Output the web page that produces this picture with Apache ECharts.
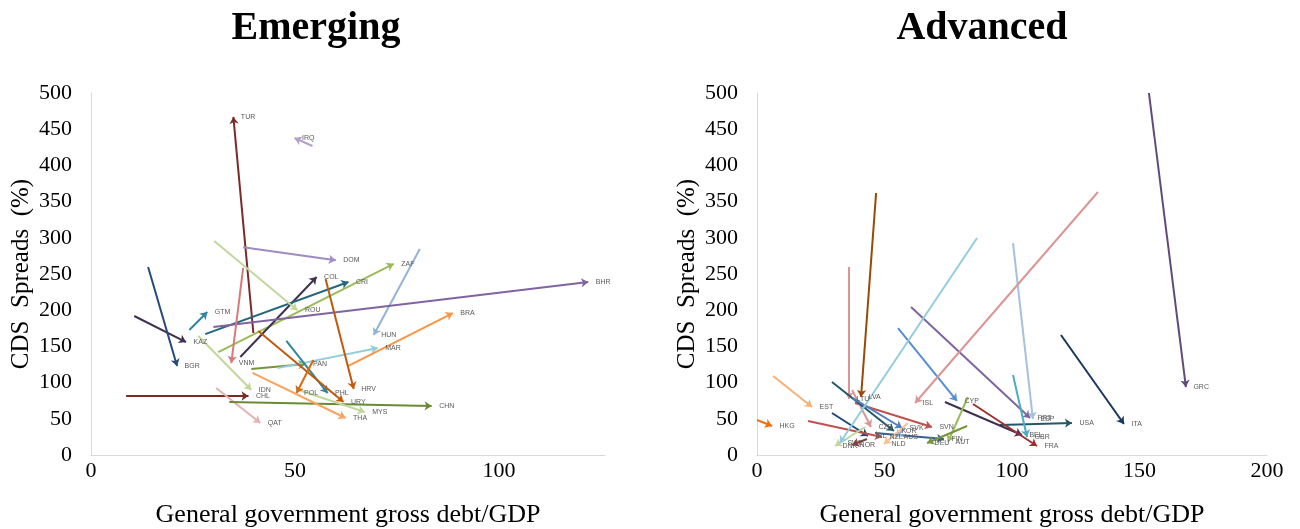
<!DOCTYPE html>
<html><head><meta charset="utf-8">
<script src="https://cdn.jsdelivr.net/npm/echarts@6/dist/echarts.min.js"></script>
<style>html,body{margin:0;padding:0;background:#fff}#c{width:1300px;height:529px}</style>
</head><body><div id="c"></div>
<script>
// ---- Emerging economies: debt/GDP and CDS spreads, start -> end ----
const emCodes     = ['TUR','IRQ','DOM','ZAF','HUN','COL','CRI','BHR','GTM','KAZ','BGR','VNM','ROU','IDN','CHL','QAT','CHN','PAN','MAR','BRA','HRV','PHL','URY','MYS','POL','THA'];
const emDebtStart = [39.8, 54.3, 37.3, 31.2, 80.6, 36.6, 28.0, 30.0, 24.1, 10.6, 14.0, 37.3, 30.2, 26.3,  8.6, 30.7, 33.9, 39.3, 45.7, 63.1, 57.5, 47.9, 41.0, 50.9, 54.5, 39.6];
const emCdsStart  = [168.5,426.8,287, 142, 284.5,135.4,167, 176.8,172.7,192, 259.7,258.3,295.6,164.4,81.5, 92.5, 73.2,118.8,120, 123, 243, 157.5,171.3,89.8,131.2,113.3];
const emDebtEnd   = [34.9, 49.9, 60.0, 74.2, 69.3, 55.3, 63.1,121.9, 28.5, 23.3, 21.1, 34.4, 50.6, 39.3, 38.6, 41.5, 83.5, 52.6, 70.3, 88.7, 64.4, 58.0, 61.9, 67.1, 50.4, 62.4];
const emCdsEnd    = [467, 437.8,269, 264, 165.7,245.9,239, 239, 197.5,156, 123, 127, 200, 89.8, 81.5, 44.2, 67.7,125.7,147.8,196, 91.2, 85.6, 73.2, 59.4, 85.6, 51.1];

// ---- Advanced economies ----
const advCodes     = ['GRC','ITA','USA','PRT','ESP','GBR','BEL','FRA','CYP','ISL','SVN','FIN','AUT','DEU','LVA','LTU','EST','HKG','CZE','KOR','SVK','IRL','NZL','AUS','NLD','NOR','DNK','SWE'];
const advDebtStart = [153.7,119.2, 95.3, 60.4,100.4,100.4, 73.7, 84.7, 55.3,133.7, 38.4, 46.3, 82.7, 82.4, 46.7, 36.1,  6.3,  0.0, 37.3, 29.4, 37.6, 29.4, 20.0, 58.0, 59.2, 43.1, 42.4, 86.3];
const advCdsStart  = [500, 165.7, 41.4,204.4,292.8,110.5, 73.2, 70.4,175.4,363.3, 71.8, 30.4, 80.1, 40.0,361.9,259.7,109.1, 48.3, 89.8,100.8, 78.7, 58.0, 47.0, 37.3, 44.2, 22.1, 38.7,299.7];
const advDebtEnd   = [168.2,143.9,123.5,107.1,108.2,105.9,103.9,109.8, 78.4, 62.0, 68.6, 73.3, 74.9, 66.7, 40.8, 36.1, 21.6,  5.9, 44.7, 53.7, 56.9, 43.5, 49.0, 54.5, 49.8, 37.3, 30.6, 32.5];
const advCdsEnd    = [93.9, 42.8, 44.2, 51.1, 49.7, 24.9, 27.6, 12.4, 74.6, 71.8, 38.7, 22.1, 18.0, 16.6, 80.1, 77.3, 66.3, 40.0, 38.7, 33.1, 37.3, 26.2, 24.9, 24.9, 15.2, 13.8, 12.4, 16.6];

const yTicks = [0,50,100,150,200,250,300,350,400,450,500];
const emXTicks = [0,50,100];
const advXTicks = [0,50,100,150,200];

// ---- styles (colour per country) ----
const colors = {
  TUR:'#7B2A2A', IRQ:'#B3A2C7', DOM:'#9F8AC4', ZAF:'#9BBB59', HUN:'#95B3D7', COL:'#403151', CRI:'#22677A',
  BHR:'#8064A2', GTM:'#31859C', KAZ:'#3F3151', BGR:'#254B7A', VNM:'#D9797A', ROU:'#C3D69B', IDN:'#C3D69B',
  CHL:'#7B2A2A', QAT:'#E6B0AF', CHN:'#6A8A35', PAN:'#77933C', MAR:'#93CDDD', BRA:'#F79646', HRV:'#C0590B',
  PHL:'#31859C', URY:'#C0590B', MYS:'#C3D69B', POL:'#D46A12', THA:'#FAA35A',
  GRC:'#604A7B', ITA:'#17375E', USA:'#215968', PRT:'#8064A2', ESP:'#A6C0E0', GBR:'#4BACC6', BEL:'#3F3151',
  FRA:'#A0302E', CYP:'#558ED5', ISL:'#DA9694', SVN:'#C0504D', FIN:'#376092', AUT:'#9BBB59', DEU:'#77933C',
  LVA:'#984807', LTU:'#DA9694', EST:'#F9B074', HKG:'#F36F10', CZE:'#DA9694', KOR:'#215968', SVK:'#4F81BD',
  IRL:'#1F497D', NZL:'#C0504D', AUS:'#8DB4E2', NLD:'#FAC090', NOR:'#953735', DNK:'#C3D69B', SWE:'#93CDDD'
};

const serif = 'Liberation Serif';
const sans = 'Liberation Sans';

function arrows(codes, x0, y0, x1, y1, gi) {
  const lineData = codes.map((c, i) => ({
    coords: [[x0[i], y0[i]], [x1[i], y1[i]]],
    lineStyle: { color: colors[c] }, itemStyle: { color: colors[c] }
  }));
  const labelData = codes.map((c, i) => ({ name: c, value: [x1[i], y1[i]] }));
  return [
    { type: 'lines', coordinateSystem: 'cartesian2d', xAxisIndex: gi, yAxisIndex: gi,
      symbol: ['none', 'arrow'], symbolSize: 7, silent: true,
      lineStyle: { width: 2, opacity: 1, curveness: 0 }, data: lineData, z: 2 },
    { type: 'scatter', xAxisIndex: gi, yAxisIndex: gi, symbol: 'circle', symbolSize: 1,
      itemStyle: { color: 'rgba(0,0,0,0)' }, silent: true,
      label: { show: true, position: 'right', distance: 7, formatter: p => p.name,
               fontFamily: sans, fontSize: 7, color: '#595959', opacity: 1 },
      labelLayout: { hideOverlap: false },
      data: labelData, z: 3 }
  ];
}

function xAxis(gi, max, ticks) {
  return { gridIndex: gi, type: 'value', min: 0, max: max, interval: 50,
    axisLine: { show: true, onZero: false, lineStyle: { color: '#D9D9D9', width: 1 } },
    axisTick: { show: false }, splitLine: { show: false },
    axisLabel: { fontFamily: serif, fontSize: 22, color: '#000', margin: 5,
      formatter: v => ticks.includes(v) ? String(v) : '' },
    name: 'General government gross debt/GDP', nameLocation: 'middle', nameGap: 47,
    nameTextStyle: { fontFamily: serif, fontSize: 26, color: '#000' } };
}
function yAxis(gi) {
  return { gridIndex: gi, type: 'value', min: 0, max: 500, interval: 50,
    axisLine: { show: true, lineStyle: { color: '#D9D9D9', width: 1 } },
    axisTick: { show: false }, splitLine: { show: false },
    axisLabel: { fontFamily: serif, fontSize: 22, color: '#000', margin: 19,
      formatter: v => yTicks.includes(v) ? String(v) : '' },
    name: 'CDS  Spreads  (%)', nameLocation: 'middle', nameGap: 57, nameRotate: 90,
    nameTextStyle: { fontFamily: serif, fontSize: 25, color: '#000' } };
}

const chart = echarts.init(document.getElementById('c'), null, { renderer: 'canvas' });
chart.setOption({
  animation: false,
  backgroundColor: '#fff',
  graphic: [
    { type: 'text', x: 316, y: 29, style: { text: 'Emerging', fontFamily: serif, fontWeight: 'bold', fontSize: 40,
      fill: '#000', textAlign: 'center', textVerticalAlign: 'middle' } },
    { type: 'text', x: 982, y: 29, style: { text: 'Advanced', fontFamily: serif, fontWeight: 'bold', fontSize: 40,
      fill: '#000', textAlign: 'center', textVerticalAlign: 'middle' } }
  ],
  grid: [
    { left: 91, top: 93, width: 514, height: 362, containLabel: false, outerBoundsMode: 'none' },
    { left: 757, top: 93, width: 510, height: 362, containLabel: false, outerBoundsMode: 'none' }
  ],
  xAxis: [ xAxis(0, 126, emXTicks), xAxis(1, 200, advXTicks) ],
  yAxis: [ yAxis(0), yAxis(1) ],
  series: [
    ...arrows(emCodes, emDebtStart, emCdsStart, emDebtEnd, emCdsEnd, 0),
    ...arrows(advCodes, advDebtStart, advCdsStart, advDebtEnd, advCdsEnd, 1)
  ]
});
</script></body></html>
